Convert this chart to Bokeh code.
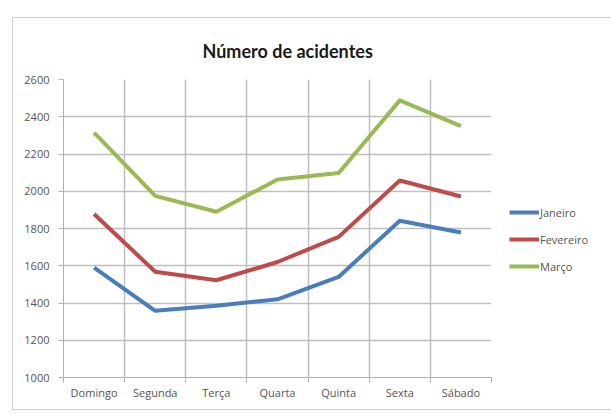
from bokeh.plotting import figure
from bokeh.models import FixedTicker, Legend, LegendItem, ColumnDataSource, Title
from bokeh.embed import file_html
from bokeh.resources import INLINE

days = ["Domingo", "Segunda", "Terça", "Quarta", "Quinta", "Sexta", "Sábado"]
janeiro = [1590, 1358, 1385, 1420, 1540, 1842, 1779]
fevereiro = [1878, 1568, 1522, 1620, 1755, 2058, 1972]
marco = [2315, 1975, 1890, 2063, 2098, 2488, 2350]
series_names = ["Janeiro", "Fevereiro", "Março"]
series_colors = ["#4A7EBB", "#BE4B48", "#98B954"]
y_ticks = [1000, 1200, 1400, 1600, 1800, 2000, 2200, 2400, 2600]

xs = [i + 0.5 for i in range(len(days))]
bounds = list(range(len(days) + 1))

FONT = "Open Sans"

p = figure(frame_width=428, frame_height=298, output_backend="svg", toolbar_location=None,
           x_range=(0, len(days)), y_range=(1000, 2600),
           min_border_left=50, min_border_right=112, min_border_top=61, min_border_bottom=32)
p.styles = {"margin-left": "12px", "margin-top": "17px", "border": "1px solid #d0d0d0"}

t = Title(text="Número de acidentes", align="left", offset=139,
          text_font="Lato", text_font_style="bold", text_font_size="18px",
          text_color="#1a1a1a", standoff=33, vertical_align="middle")
p.add_layout(t, "above")

p.outline_line_color = None
p.background_fill_color = "white"
p.border_fill_color = "white"

# grids
p.xgrid.ticker = FixedTicker(ticks=bounds)
p.ygrid.ticker = FixedTicker(ticks=y_ticks)
for g in (p.xgrid, p.ygrid):
    g.grid_line_color = "#bfbfbf"
    g.grid_line_width = 1.5

# x axis
xa = p.xaxis[0]
xa.ticker = FixedTicker(ticks=xs, minor_ticks=bounds)
xa.major_label_overrides = {x: d for x, d in zip(xs, days)}
xa.major_tick_line_color = None
xa.minor_tick_out = 5
xa.minor_tick_in = 0
xa.minor_tick_line_color = "#b0b0b0"
xa.axis_line_color = "#b0b0b0"
xa.major_label_text_font = FONT
xa.major_label_text_font_size = "11px"
xa.major_label_text_color = "#555555"
xa.major_label_standoff = 1

ya = p.yaxis[0]
ya.ticker = FixedTicker(ticks=y_ticks)
ya.minor_tick_line_color = None
ya.major_tick_out = 5
ya.major_tick_in = 0
ya.major_tick_line_color = "#b0b0b0"
ya.axis_line_color = "#b0b0b0"
ya.major_label_text_font = FONT
ya.major_label_text_font_size = "11px"
ya.major_label_text_color = "#555555"
ya.major_label_standoff = 9

items = []
for name, vals, col in zip(series_names, [janeiro, fevereiro, marco], series_colors):
    src = ColumnDataSource(dict(x=xs, y=vals))
    r = p.line("x", "y", source=src, line_color=col, line_width=4, line_join="round")
    items.append(LegendItem(label=name, renderers=[r]))

legend = Legend(items=items, location=(18, 101))
legend.border_line_color = None
legend.background_fill_alpha = 0
legend.label_text_font = FONT
legend.label_text_font_size = "11px"
legend.label_text_color = "#555555"
legend.glyph_width = 30
legend.glyph_height = 20
legend.label_standoff = 1
legend.spacing = 7
legend.margin = 0
legend.padding = 8
p.add_layout(legend, "right")

open("out.html", "w").write(file_html(p, INLINE))
